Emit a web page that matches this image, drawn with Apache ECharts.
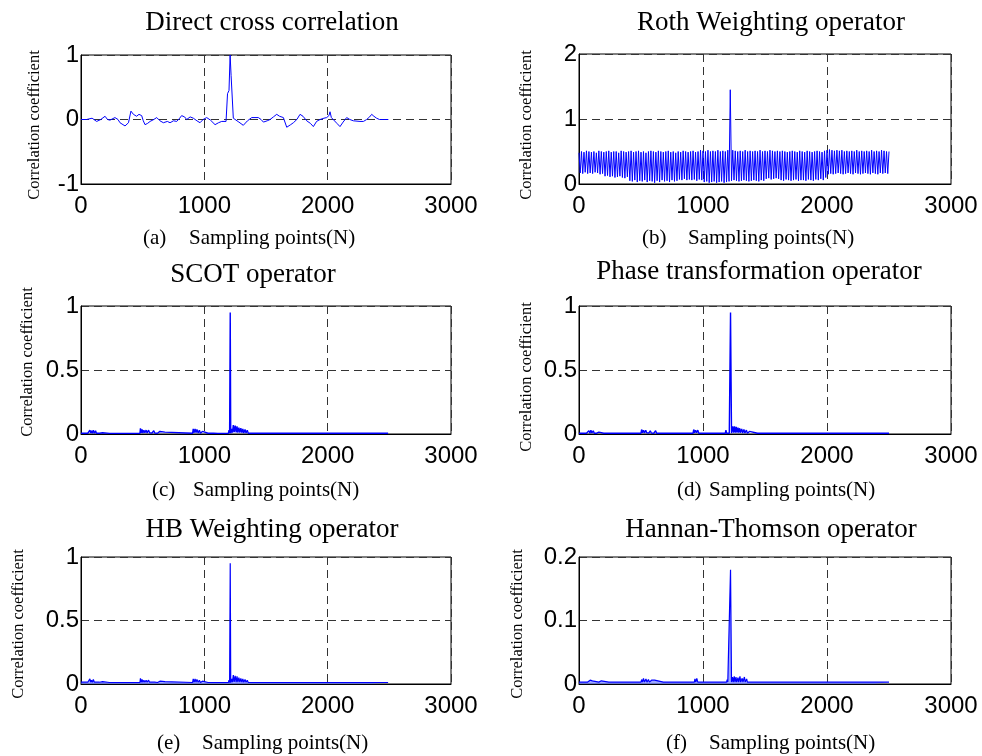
<!DOCTYPE html>
<html>
<head>
<meta charset="utf-8">
<script src="https://cdn.jsdelivr.net/npm/echarts@6/dist/echarts.min.js"></script>
<style>html,body{margin:0;padding:0;background:#fff}#c{width:982px;height:756px}</style>
</head>
<body>
<div id="c"></div>
<script>
// ---------- DATA ----------
const panelTitles = ['Direct cross correlation', 'Roth Weighting operator', 'SCOT operator',
  'Phase transformation operator', 'HB Weighting operator', 'Hannan-Thomson operator'];
const panelLetters = ['(a)', '(b)', '(c)', '(d)', '(e)', '(f)'];
const xAxisLabel = 'Sampling points(N)';
const yAxisLabel = 'Correlation coefficient';
const xTicks = [0, 1000, 2000, 3000];
const yRanges = [[-1, 1, 1], [0, 2, 1], [0, 1, 0.5], [0, 1, 0.5], [0, 1, 0.5], [0, 0.2, 0.1]];

// (a) direct cross correlation: [sample, value]
const directCC = [[0,0],[45,0],[60,0.03],[90,0.02],[127,-0.03],[160,0],[195,0.05],[215,0.0],[235,-0.01],[275,0.03],[300,0.0],[316,-0.05],[357,-0.1],[385,-0.05],[397,-0.03],[405,0.13],[425,0.08],[451,0.05],[470,0.08],[492,0.06],[505,-0.02],[519,-0.08],[540,-0.06],[560,-0.03],[590,0.0],[614,0.03],[640,-0.02],[668,-0.05],[700,-0.03],[722,-0.05],[750,-0.02],[776,-0.03],[800,0.02],[816,0.06],[840,0.04],[857,0],[885,0.04],[911,0.02],[940,-0.02],[965,-0.05],[990,0.0],[1019,0.03],[1050,-0.01],[1087,-0.08],[1115,-0.05],[1141,-0.03],[1176,-0.03],[1184,0.0],[1188,0.40],[1200,0.45],[1207,0.46],[1209,1.0],[1214,1.0],[1217,0.68],[1230,0.66],[1235,0.02],[1249,0.02],[1280,-0.04],[1316,-0.09],[1350,-0.02],[1384,0.03],[1438,0.03],[1460,0.0],[1479,-0.04],[1510,-0.02],[1533,0],[1560,0.04],[1587,0.08],[1610,0.05],[1641,0.03],[1650,0.04],[1668,-0.12],[1700,-0.08],[1722,-0.05],[1750,0.0],[1776,0.08],[1800,0.05],[1830,-0.02],[1860,-0.06],[1884,-0.11],[1910,-0.03],[1938,0],[1970,0.02],[1992,0.03],[2010,0.06],[2019,0.12],[2030,0.03],[2046,0],[2075,-0.06],[2100,-0.11],[2125,-0.04],[2154,0.03],[2180,0.0],[2208,-0.02],[2262,-0.03],[2290,-0.03],[2316,0],[2340,0.04],[2357,0.08],[2375,0.05],[2397,0.02],[2420,0.0],[2451,0],[2492,0]];

// (b) Roth: one value every rothStep samples
const rothStep = 10;
const rothValues = [
0.48,0.17,0.50,0.16,0.49,0.18,0.51,0.16,0.50,0.17,
0.49,0.16,0.50,0.18,0.48,0.17,0.51,0.15,0.50,0.16,
0.49,0.12,0.50,0.13,0.51,0.11,0.49,0.12,0.50,0.10,
0.50,0.11,0.48,0.12,0.51,0.10,0.50,0.09,0.49,0.11,
0.50,0.05,0.51,0.04,0.49,0.06,0.50,0.03,0.51,0.05,
0.49,0.04,0.50,0.06,0.48,0.03,0.50,0.05,0.51,0.04,
0.50,0.02,0.49,0.05,0.51,0.03,0.50,0.06,0.49,0.04,
0.50,0.05,0.51,0.03,0.49,0.06,0.50,0.04,0.48,0.05,
0.50,0.07,0.49,0.06,0.51,0.08,0.50,0.06,0.49,0.07,
0.50,0.06,0.51,0.07,0.49,0.05,0.50,0.07,0.52,0.06,
0.51,0.03,0.50,0.04,0.52,0.02,0.50,0.03,0.51,0.04,
0.50,0.02,0.52,0.03,0.50,0.04,0.51,0.02,0.50,0.03,
0.52,0.04,1.45,0.05,0.52,0.06,0.51,0.05,0.50,0.04,
0.51,0.05,0.50,0.06,0.52,0.05,0.50,0.04,0.51,0.05,
0.50,0.06,0.51,0.05,0.50,0.04,0.52,0.06,0.50,0.05,
0.51,0.08,0.50,0.09,0.52,0.07,0.51,0.08,0.50,0.09,
0.51,0.08,0.50,0.06,0.51,0.05,0.50,0.07,0.49,0.06,
0.50,0.05,0.51,0.06,0.50,0.07,0.49,0.05,0.51,0.06,
0.50,0.06,0.49,0.05,0.51,0.07,0.50,0.06,0.49,0.05,
0.50,0.07,0.51,0.06,0.50,0.08,0.49,0.06,0.51,0.10,
0.52,0.15,0.53,0.16,0.52,0.15,0.51,0.16,0.52,0.17,
0.51,0.16,0.52,0.15,0.50,0.16,0.51,0.17,0.50,0.16,
0.51,0.15,0.50,0.17,0.52,0.16,0.50,0.15,0.51,0.16,
0.50,0.17,0.51,0.16,0.50,0.15,0.52,0.17,0.50,0.16,
0.51,0.15,0.50,0.17,0.52,0.16,0.51,0.17,0.50,0.16,
0.50];

// (c) SCOT
const scot = [[0,0.006],[55,0.006],[60,0.02],[66,0.006],[72,0.03],[78,0.008],[85,0.025],[92,0.006],[100,0.03],[108,0.006],[118,0.025],[125,0.006],[140,0.02],[150,0.006],[175,0.01],[182,0.005],[230,0.005],[235,0.012],[240,0.005],[290,0.005],[295,0.01],[300,0.005],[340,0.005],[345,0.01],[350,0.005],[445,0.005],[450,0.012],[455,0.005],[478,0.005],[482,0.045],[488,0.01],[495,0.035],[502,0.008],[510,0.03],[518,0.01],[528,0.03],[536,0.008],[548,0.03],[556,0.01],[568,0.025],[576,0.008],[590,0.025],[598,0.008],[612,0.02],[620,0.006],[640,0.02],[648,0.006],[680,0.015],[688,0.006],[905,0.006],[910,0.04],[918,0.01],[925,0.04],[932,0.01],[940,0.035],[950,0.008],[960,0.03],[968,0.006],[985,0.02],[992,0.006],[1030,0.006],[1035,0.015],[1040,0.006],[1075,0.006],[1080,0.01],[1085,0.005],[1110,0.005],[1115,0.01],[1120,0.005],[1150,0.005],[1155,0.012],[1160,0.005],[1195,0.005],[1200,0.03],[1205,0.006],[1210,0.95],[1214,0.006],[1222,0.04],[1228,0.01],[1235,0.07],[1242,0.015],[1250,0.065],[1258,0.012],[1265,0.06],[1272,0.01],[1280,0.05],[1288,0.01],[1296,0.045],[1304,0.01],[1312,0.04],[1320,0.008],[1330,0.035],[1338,0.008],[1348,0.03],[1356,0.006],[1370,0.02],[1378,0.006],[1415,0.006],[1420,0.02],[1428,0.006],[1540,0.006],[1545,0.012],[1550,0.006],[1600,0.006],[1605,0.015],[1610,0.006],[1780,0.006],[1785,0.01],[1790,0.006],[1980,0.006],[1995,0.02],[2005,0.006],[2015,0.015],[2025,0.006],[2050,0.006],[2058,0.015],[2066,0.006],[2200,0.006],[2205,0.015],[2210,0.006],[2240,0.006],[2246,0.012],[2252,0.006],[2325,0.006],[2332,0.015],[2345,0.006],[2490,0.006]];

// (d) Phase transformation
const phat = [[0,0.006],[60,0.006],[66,0.02],[72,0.006],[80,0.025],[88,0.006],[96,0.03],[104,0.008],[115,0.025],[123,0.006],[135,0.02],[143,0.006],[160,0.015],[168,0.006],[200,0.006],[205,0.01],[210,0.006],[260,0.006],[265,0.01],[270,0.006],[320,0.006],[325,0.01],[330,0.006],[470,0.006],[475,0.02],[480,0.006],[500,0.006],[505,0.035],[512,0.01],[520,0.03],[528,0.008],[538,0.03],[546,0.01],[556,0.025],[564,0.008],[575,0.025],[583,0.008],[595,0.02],[603,0.006],[618,0.025],[626,0.006],[660,0.006],[665,0.015],[670,0.006],[920,0.006],[925,0.035],[932,0.01],[940,0.03],[948,0.01],[958,0.03],[966,0.006],[980,0.02],[988,0.006],[1040,0.006],[1045,0.015],[1050,0.006],[1100,0.006],[1105,0.01],[1110,0.006],[1140,0.006],[1145,0.01],[1150,0.006],[1180,0.006],[1185,0.03],[1190,0.006],[1212,0.006],[1222,0.95],[1230,0.006],[1240,0.06],[1246,0.01],[1254,0.06],[1260,0.01],[1268,0.055],[1274,0.01],[1282,0.05],[1288,0.01],[1296,0.045],[1302,0.01],[1312,0.04],[1320,0.008],[1330,0.035],[1338,0.008],[1350,0.03],[1358,0.006],[1375,0.02],[1383,0.006],[1440,0.006],[1445,0.012],[1450,0.006],[1560,0.006],[1565,0.015],[1580,0.006],[1615,0.006],[1620,0.015],[1625,0.006],[1800,0.006],[1806,0.012],[1812,0.006],[2000,0.006],[2005,0.01],[2010,0.006],[2120,0.006],[2125,0.01],[2130,0.006],[2250,0.006],[2255,0.012],[2260,0.006],[2350,0.006],[2355,0.01],[2360,0.006],[2500,0.006]];

// (e) HB weighting
const hb = [[0,0.014],[55,0.014],[60,0.028],[66,0.014],[72,0.04],[78,0.014],[85,0.03],[92,0.014],[100,0.035],[108,0.014],[118,0.028],[125,0.014],[140,0.022],[150,0.014],[175,0.018],[182,0.012],[230,0.012],[235,0.018],[240,0.012],[290,0.012],[295,0.018],[300,0.012],[340,0.012],[345,0.018],[350,0.012],[445,0.012],[450,0.018],[455,0.012],[478,0.012],[482,0.045],[488,0.014],[495,0.035],[502,0.014],[510,0.03],[518,0.014],[528,0.03],[536,0.014],[548,0.03],[556,0.014],[568,0.025],[576,0.014],[590,0.025],[598,0.014],[612,0.022],[620,0.012],[640,0.022],[648,0.012],[680,0.018],[688,0.012],[905,0.012],[910,0.04],[918,0.014],[925,0.04],[932,0.014],[940,0.035],[950,0.014],[960,0.03],[968,0.012],[985,0.022],[992,0.012],[1030,0.012],[1035,0.02],[1040,0.012],[1075,0.012],[1080,0.018],[1085,0.012],[1110,0.012],[1115,0.018],[1120,0.012],[1150,0.012],[1155,0.018],[1160,0.012],[1195,0.012],[1200,0.03],[1205,0.012],[1210,0.95],[1214,0.012],[1222,0.04],[1228,0.014],[1235,0.07],[1242,0.016],[1250,0.065],[1258,0.014],[1265,0.06],[1272,0.014],[1280,0.05],[1288,0.014],[1296,0.045],[1304,0.014],[1312,0.04],[1320,0.014],[1330,0.035],[1338,0.014],[1348,0.03],[1356,0.012],[1370,0.022],[1378,0.012],[1415,0.012],[1420,0.022],[1428,0.012],[1540,0.012],[1545,0.018],[1550,0.012],[1600,0.012],[1605,0.018],[1610,0.012],[1780,0.012],[1785,0.018],[1790,0.012],[1980,0.012],[1995,0.022],[2005,0.012],[2015,0.018],[2025,0.012],[2050,0.012],[2058,0.018],[2066,0.012],[2200,0.012],[2205,0.018],[2210,0.012],[2240,0.012],[2246,0.018],[2252,0.012],[2325,0.012],[2332,0.02],[2345,0.012],[2490,0.012]];

// (f) Hannan-Thomson
const ht = [[0,0.003],[70,0.003],[75,0.005],[82,0.003],[90,0.006],[98,0.003],[108,0.005],[116,0.003],[160,0.003],[165,0.006],[172,0.003],[180,0.005],[188,0.003],[240,0.003],[245,0.004],[300,0.003],[305,0.004],[420,0.003],[425,0.004],[500,0.003],[505,0.007],[512,0.003],[520,0.009],[528,0.003],[540,0.008],[548,0.003],[560,0.007],[568,0.003],[585,0.006],[593,0.003],[610,0.006],[618,0.003],[680,0.003],[685,0.004],[690,0.003],[930,0.003],[935,0.008],[942,0.003],[950,0.009],[958,0.003],[968,0.006],[976,0.003],[1020,0.003],[1025,0.005],[1032,0.003],[1060,0.003],[1065,0.006],[1072,0.003],[1100,0.003],[1105,0.004],[1112,0.003],[1190,0.003],[1195,0.007],[1200,0.003],[1212,0.003],[1222,0.18],[1230,0.003],[1238,0.011],[1244,0.003],[1252,0.012],[1258,0.003],[1266,0.011],[1272,0.003],[1282,0.01],[1288,0.003],[1298,0.012],[1304,0.003],[1316,0.009],[1322,0.003],[1334,0.011],[1340,0.003],[1352,0.008],[1358,0.003],[1372,0.006],[1380,0.003],[1560,0.003],[1565,0.005],[1575,0.003],[1620,0.003],[1625,0.004],[1790,0.003],[1795,0.004],[2000,0.003],[2005,0.004],[2140,0.003],[2145,0.004],[2280,0.003],[2285,0.004],[2380,0.003],[2385,0.004],[2500,0.003]];

// ---------- LAYOUT ----------
const grids = [
  {left: 81, top: 55, width: 370, height: 129},
  {left: 579, top: 54, width: 372, height: 130},
  {left: 81, top: 306, width: 370, height: 128},
  {left: 579, top: 306, width: 372, height: 128},
  {left: 81, top: 557, width: 370, height: 127},
  {left: 579, top: 557, width: 372, height: 127}
];
const titlePos = [[272, 23], [771, 23], [253, 275], [759, 272], [272, 530], [771, 530]];
const letterPos = [[143, 238], [642, 238], [152, 490], [677, 490], [157, 743], [666, 743]];
const captionPos = [[189, 238], [688, 238], [193, 490], [709, 490], [202, 743], [709, 743]];
const yLabelPos = [[35, 125], [527, 125], [27.5, 362], [526.5, 377], [19, 624], [517.5, 624]];
const lineWidths = [1, 1, 1.4, 1.4, 1.2, 1.2];
const areaFill = [false, false, false, false, true, true];

const seriesData = [
  directCC,
  rothValues.map((v, i) => [i * rothStep, v]),
  scot, phat, hb, ht
];

const serif = '"Liberation Serif", "Times New Roman", serif';
const sans = '"Liberation Sans", Arial, sans-serif';
const dash = {type: [8, 5], color: '#333', width: 1};
const plain = v => String(v);

const option = {
  animation: false,
  backgroundColor: '#fff',
  grid: grids.map(g => Object.assign({show: true, borderColor: '#000', borderWidth: 1,
    backgroundColor: 'transparent', containLabel: false, outerBoundsMode: 'none'}, g)),
  xAxis: grids.map((g, i) => ({
    type: 'value', gridIndex: i, min: xTicks[0], max: xTicks[xTicks.length - 1], interval: 1000,
    axisLine: {show: true, onZero: false, lineStyle: {color: '#000', width: 1}},
    axisTick: {show: false},
    axisLabel: {fontSize: 24, fontFamily: sans, color: '#000', margin: 10, formatter: plain,
      showMinLabel: true, showMaxLabel: true, hideOverlap: false},
    splitLine: {show: true, lineStyle: dash}
  })),
  yAxis: grids.map((g, i) => ({
    type: 'value', gridIndex: i, min: yRanges[i][0], max: yRanges[i][1], interval: yRanges[i][2],
    axisLine: {show: true, onZero: false, lineStyle: {color: '#000', width: 1}},
    axisTick: {show: false},
    axisLabel: {fontSize: 24, fontFamily: sans, color: '#000', margin: 2, formatter: plain,
      showMinLabel: true, showMaxLabel: true, hideOverlap: false},
    splitLine: {show: true, lineStyle: dash}
  })),
  series: seriesData.map((d, i) => ({
    type: 'line', name: panelTitles[i], xAxisIndex: i, yAxisIndex: i, data: d,
    showSymbol: false, symbol: 'none', clip: true,
    lineStyle: {color: '#0000ff', width: lineWidths[i]}, itemStyle: {color: '#0000ff'},
    areaStyle: areaFill[i] ? {color: '#5a6cff', opacity: 0.6, origin: 'start'} : undefined
  })),
  graphic: [].concat(
    panelTitles.map((t, i) => ({type: 'text', x: titlePos[i][0], y: titlePos[i][1], silent: true,
      style: {text: t, font: '27px ' + serif, fill: '#000', align: 'center', verticalAlign: 'middle', textAlign: 'center', textVerticalAlign: 'middle'}})),
    panelLetters.map((t, i) => ({type: 'text', x: letterPos[i][0], y: letterPos[i][1], silent: true,
      style: {text: t, font: '21px ' + serif, fill: '#000', align: 'left', verticalAlign: 'middle', textAlign: 'left', textVerticalAlign: 'middle'}})),
    panelLetters.map((t, i) => ({type: 'text', x: captionPos[i][0], y: captionPos[i][1], silent: true,
      style: {text: xAxisLabel, font: '21px ' + serif, fill: '#000', align: 'left', verticalAlign: 'middle', textAlign: 'left', textVerticalAlign: 'middle'}})),
    panelLetters.map((t, i) => ({type: 'text', x: yLabelPos[i][0], y: yLabelPos[i][1], rotation: Math.PI / 2, silent: true,
      style: {text: yAxisLabel, font: '16.5px ' + serif, fill: '#000', align: 'center', verticalAlign: 'middle', textAlign: 'center', textVerticalAlign: 'middle'}}))
  )
};

const chart = echarts.init(document.getElementById('c'), null, {renderer: 'canvas'});
chart.setOption(option);
</script>
</body>
</html>
